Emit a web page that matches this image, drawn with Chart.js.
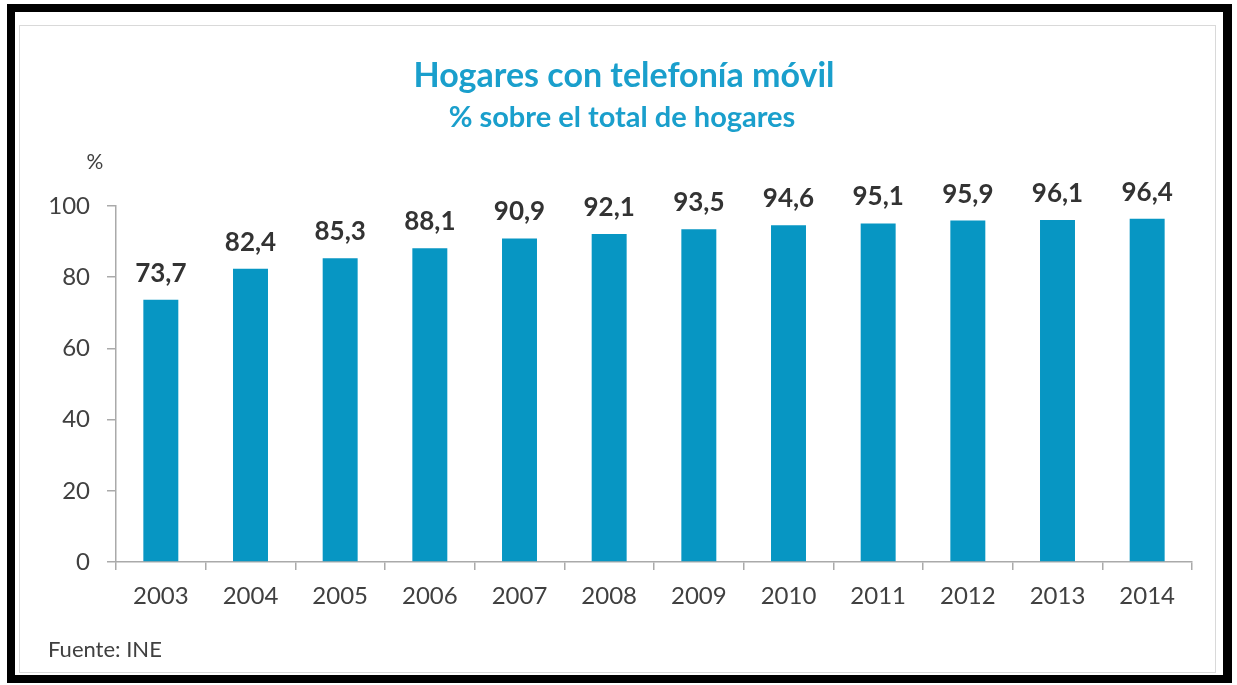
<!DOCTYPE html>
<html><head><meta charset="utf-8">
<script src="https://cdn.jsdelivr.net/npm/chart.js@4.4.1/dist/chart.umd.min.js"></script>
<style>
html,body{margin:0;padding:0;background:#fff;width:1237px;height:685px;overflow:hidden}
#outer{position:absolute;left:7px;top:4px;width:1208px;height:663px;border-style:solid;border-color:#000;border-width:8px 9px 8px 8px;}
#inner{position:absolute;left:19px;top:25px;width:1195px;height:646px;border:1px solid #d9d9d9}
canvas{position:absolute;left:0;top:0}
</style></head>
<body>
<div id="outer"></div>
<div id="inner"></div>
<canvas id="c" width="1237" height="685"></canvas>
<script>
const categories = ['2003','2004','2005','2006','2007','2008','2009','2010','2011','2012','2013','2014'];
const values = [73.7,82.4,85.3,88.1,90.9,92.1,93.5,94.6,95.1,95.9,96.1,96.4];
const yMin = 0, yMax = 100, yStep = 20;
const titleText = 'Hogares con telefonía móvil';
const subtitleText = '% sobre el total de hogares';
const unitText = '%';
const sourceText = 'Fuente: INE';

const FONT = 'Lato';
const axisColor = '#aaaaaa';
const textColor = '#404040';
const barColor = '#0796c3';
const titleColor = '#1a9fcc';

const textPlugin = {
  id:'texts',
  afterDraw(chart){
    const ctx = chart.ctx;
    ctx.save();
    ctx.textAlign='center';
    ctx.textBaseline='alphabetic';
    ctx.fillStyle=titleColor;
    ctx.font='bold 34px '+FONT;
    ctx.fillText(titleText, 624, 87);
    ctx.font='bold 29px '+FONT;
    ctx.fillText(subtitleText, 622, 127);
    ctx.fillStyle=textColor;
    ctx.font='21px '+FONT;
    ctx.fillText(unitText, 95, 169);
    ctx.textAlign='left';
    ctx.font='22px '+FONT;
    ctx.fillText(sourceText, 48, 657);
    // data labels
    ctx.textAlign='center';
    ctx.fillStyle='#333333';
    ctx.font='bold 26px '+FONT;
    const meta = chart.getDatasetMeta(0);
    meta.data.forEach((bar,i)=>{
      ctx.fillText(values[i].toFixed(1).replace('.',','), bar.x, bar.y-18);
    });
    ctx.restore();
  }
};

new Chart(document.getElementById('c'), {
  type:'bar',
  data:{labels:categories, datasets:[{data:values, backgroundColor:barColor, borderWidth:0, barPercentage:0.39, categoryPercentage:1}]},
  options:{
    responsive:false, animation:false, events:[],
    layout:{padding:{top:206,right:45,left:0,bottom:0}},
    plugins:{legend:{display:false}, tooltip:{enabled:false}, title:{display:false}},
    scales:{
      x:{
        grid:{display:true, drawOnChartArea:false, drawTicks:true, tickLength:8, color:axisColor, lineWidth:1.5, offset:true},
        border:{display:true, color:axisColor, width:1.5},
        ticks:{font:{family:FONT,size:24}, color:textColor, padding:12, maxRotation:0},
        afterFit(s){ s.height = 123; }
      },
      y:{
        min:yMin, max:yMax,
        grid:{display:true, drawOnChartArea:false, drawTicks:true, tickLength:9, color:axisColor, lineWidth:1.5},
        border:{display:true, color:axisColor, width:1.5},
        ticks:{stepSize:yStep, font:{family:FONT,size:24}, color:textColor, padding:17},
        afterFit(s){ s.width = 116; }
      }
    }
  },
  plugins:[textPlugin]
});
</script>
</body></html>
